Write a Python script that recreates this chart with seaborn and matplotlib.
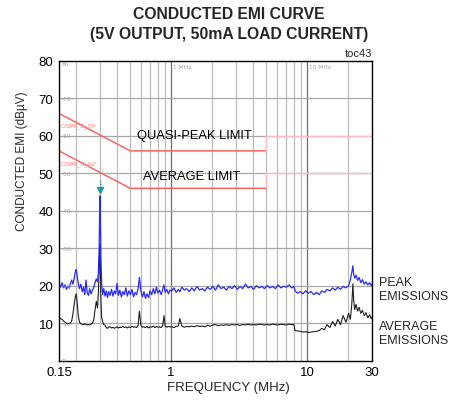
"""Conducted EMI curve (5V output, 50mA load current) redrawn with seaborn."""

import matplotlib
matplotlib.use("Agg")

import matplotlib.pyplot as plt
import matplotlib.ticker as mticker
import pandas as pd
import seaborn as sns


FREQ_MHZ = [
    0.150, 0.154, 0.158, 0.162, 0.166, 0.170, 0.174, 0.178, 0.182, 0.186,
    0.190, 0.194, 0.198, 0.201, 0.204, 0.208, 0.212, 0.217, 0.222, 0.227,
    0.232, 0.237, 0.242, 0.247, 0.252, 0.258, 0.264, 0.270, 0.276, 0.282,
    0.288, 0.292, 0.296, 0.298, 0.300, 0.302, 0.305, 0.309, 0.314, 0.320,
    0.327, 0.334, 0.341, 0.348,
    0.356, 0.365, 0.374, 0.383, 0.392, 0.400, 0.410, 0.420, 0.431, 0.442,
    0.453, 0.465, 0.477, 0.490, 0.503, 0.516, 0.530, 0.544, 0.558, 0.572,
    0.585, 0.600, 0.616, 0.632, 0.648, 0.665, 0.683, 0.700, 0.720, 0.740,
    0.760, 0.780, 0.800, 0.822, 0.845, 0.868, 0.887, 0.905, 0.930, 0.955,
    0.980,
    1.01, 1.05, 1.09, 1.13, 1.16, 1.20, 1.25, 1.30, 1.36, 1.42,
    1.48, 1.55, 1.62, 1.69, 1.77, 1.85, 1.94, 2.03, 2.12, 2.22,
    2.33, 2.44, 2.55, 2.67, 2.80, 2.93, 3.07, 3.21, 3.36, 3.52,
    3.69, 3.86, 4.04, 4.23, 4.43, 4.64, 4.86, 5.09, 5.33, 5.58,
    5.84, 6.12, 6.41, 6.71, 7.03, 7.36, 7.71, 8.00,
    8.15, 8.50, 8.90, 9.30, 9.75, 10.2, 10.7, 11.2, 11.7, 12.3,
    12.8, 13.4, 14.0, 14.7, 15.4, 16.1, 16.8, 17.6, 18.4, 19.3,
    20.2, 20.8, 21.3, 21.7, 22.0, 22.4, 22.9, 23.5, 24.1, 24.8,
    25.5, 26.3, 27.1, 27.9, 28.8, 29.6, 30.0,
]

PEAK_DBUV = [
    20.5, 19.6, 20.8, 19.4, 20.2, 19.0, 19.8, 19.3, 20.6, 21.5,
    20.4, 22.0, 23.8, 24.3, 22.6, 20.5, 19.2, 20.4, 18.4, 19.6,
    17.6, 21.5, 18.0, 17.4, 19.2, 17.8, 18.8, 19.5, 20.8, 21.8,
    21.0, 23.5, 30.0, 38.5, 44.0, 39.0, 27.0, 20.5, 17.6, 19.2,
    17.2, 18.6, 16.8, 18.4,
    17.4, 19.0, 17.2, 18.6, 17.8, 20.6, 17.4, 18.8, 17.0, 18.4,
    17.6, 19.4, 17.2, 18.6, 17.6, 19.0, 17.0, 18.2, 17.6, 19.2,
    22.2, 18.6, 17.0, 18.4, 16.6, 17.8, 16.8, 18.6, 17.6, 19.2,
    17.8, 19.6, 18.0, 18.8, 17.6, 19.0, 20.2, 18.2, 19.0, 17.8,
    18.8,
    18.6, 19.4, 18.2, 19.0, 18.4, 19.6, 18.8, 19.2, 18.4, 19.4,
    18.6, 19.8, 18.8, 19.2, 18.6, 19.6, 19.0, 19.8, 18.8, 20.2,
    19.2, 19.6, 18.8, 19.8, 19.2, 20.0, 19.0, 19.8, 19.2, 20.4,
    19.4, 19.8, 19.0, 20.0, 19.4, 19.8, 19.2, 20.0, 19.4, 19.8,
    19.2, 20.2, 19.4, 19.8, 19.6, 20.2, 19.4, 19.8,
    18.6, 18.0, 18.4, 17.8, 18.6, 18.0, 18.4, 17.6, 18.2, 17.6,
    18.6, 18.2, 19.0, 18.6, 19.4, 18.8, 19.6, 19.0, 19.8, 19.4,
    20.0, 21.6, 23.5, 25.3, 23.0, 22.0, 22.8, 21.4, 22.2, 20.8,
    21.6, 20.4, 21.0, 20.2, 20.8, 20.0, 20.4,
]

AVERAGE_DBUV = [
    11.6, 11.2, 11.0, 10.6, 10.2, 10.0, 9.8, 9.9, 10.0, 10.6,
    12.5, 15.0, 17.2, 17.8, 15.5, 12.0, 10.3, 9.8, 9.7, 9.6,
    9.8, 9.6, 9.5, 9.6, 9.5, 9.7, 10.0, 10.8, 13.5, 15.8,
    14.0, 18.0, 24.0, 29.0, 31.0, 26.0, 16.0, 11.5, 10.4, 9.6,
    9.4, 8.8, 8.6, 8.9,
    9.0, 8.7, 8.9, 8.6, 8.8, 9.0, 8.7, 8.9, 8.8, 9.1,
    8.8, 9.0, 8.7, 9.0, 8.8, 9.1, 8.9, 9.0, 8.8, 9.4,
    13.2, 9.4, 8.9, 9.0, 8.8, 9.1, 8.7, 9.0, 8.9, 9.2,
    8.8, 9.1, 8.9, 9.0, 8.8, 9.3, 12.0, 9.2, 8.9, 9.1,
    9.0,
    9.0, 8.8, 9.1, 9.2, 11.2, 9.2, 8.9, 9.1, 9.0, 9.2,
    9.0, 9.3, 9.1, 9.2, 9.0, 9.4, 9.2, 9.5, 9.6, 9.3,
    9.5, 9.4, 9.6, 9.4, 9.6, 9.5, 9.6, 9.4, 9.6, 9.5,
    9.7, 9.5, 9.6, 9.5, 9.7, 9.6, 9.5, 9.6, 9.5, 9.7,
    9.6, 9.5, 9.7, 9.6, 9.5, 9.7, 9.6, 9.6,
    8.0, 7.9, 7.8, 7.6, 7.7, 7.5, 7.6, 7.7, 7.8, 8.0,
    8.6, 8.2, 9.6, 8.8, 10.4, 9.2, 11.0, 9.6, 12.0, 10.2,
    12.6, 11.0, 15.0, 20.5, 16.0, 13.6, 15.0, 13.2, 14.2, 12.6,
    13.4, 12.0, 12.8, 11.4, 12.2, 11.2, 11.6,
]

# CISPR 22 class B limits
QP_LIMIT_FREQ = [0.15, 0.5, 5.0]
QP_LIMIT_DBUV = [66, 56, 56]
QP_UPPER_FREQ = [5.0, 5.0, 30.0]
QP_UPPER_DBUV = [56, 60, 60]
AV_LIMIT_FREQ = [0.15, 0.5, 5.0]
AV_LIMIT_DBUV = [56, 46, 46]
AV_UPPER_FREQ = [5.0, 5.0, 30.0]
AV_UPPER_DBUV = [46, 50, 50]

X_TICKS = [0.15, 1, 10, 30]
X_TICK_LABELS = ["0.15", "1", "10", "30"]
Y_TICKS = [10, 20, 30, 40, 50, 60, 70, 80]
GRID_FREQS = [0.2, 0.3, 0.4, 0.5, 0.6, 0.7, 0.8, 0.9,
              2, 3, 4, 5, 6, 7, 8, 9, 20]


def main():
    sns.set_theme(style="white")
    plt.rcParams["font.family"] = ["Liberation Sans", "DejaVu Sans"]

    traces = pd.DataFrame({"freq": FREQ_MHZ, "peak": PEAK_DBUV, "average": AVERAGE_DBUV})

    fig = plt.figure(figsize=(4.5, 4.02), dpi=100)
    ax = fig.add_axes([0.1311, 0.1007, 0.6956, 0.7451])
    ax.set_xscale("log")
    ax.set_xlim(0.15, 30)
    ax.set_ylim(0, 80)

    # instrument-style grid
    for f in GRID_FREQS:
        ax.axvline(f, color="#bcbcbc", lw=0.9, zorder=0)
    for f in (1, 10):
        ax.axvline(f, color="#6e6e6e", lw=0.9, zorder=0)
    for level in range(10, 80, 10):
        ax.axhline(level, color="#a8a8a8", lw=0.9, zorder=0)

    # faint on-screen annotations from the analyzer
    for level in range(0, 90, 10):
        label = f"-{level}-" if 0 < level < 80 else str(level)
        ax.text(0.157, level - 0.8 if level == 80 else level, label,
                fontsize=4.2, color="#a0a0a0", va="center", ha="left", family="DejaVu Sans")
    ax.text(1.03, 78.6, "1 MHz", fontsize=4.2, color="#a0a0a0", va="center", family="DejaVu Sans")
    ax.text(10.3, 78.6, "10 MHz", fontsize=4.2, color="#a0a0a0", va="center", family="DejaVu Sans")
    ax.text(0.153, 62.8, "CISPR_B_QP", fontsize=4.2, color="#ff8080", va="center", family="DejaVu Sans")
    ax.text(0.153, 52.8, "CISPR_B_AV", fontsize=4.2, color="#ff8080", va="center", family="DejaVu Sans")

    # limit lines
    sns.lineplot(x=QP_LIMIT_FREQ, y=QP_LIMIT_DBUV, ax=ax, color="#ff5a5a", lw=1.0,
                 estimator=None, sort=False)
    sns.lineplot(x=AV_LIMIT_FREQ, y=AV_LIMIT_DBUV, ax=ax, color="#ff5a5a", lw=1.0,
                 estimator=None, sort=False)
    sns.lineplot(x=QP_UPPER_FREQ, y=QP_UPPER_DBUV, ax=ax, color="#ffbcbc", lw=1.0,
                 estimator=None, sort=False)
    sns.lineplot(x=AV_UPPER_FREQ, y=AV_UPPER_DBUV, ax=ax, color="#ffbcbc", lw=1.0,
                 estimator=None, sort=False)

    # measured traces
    sns.lineplot(data=traces, x="freq", y="average", ax=ax, color="#1e1e1e", lw=0.8,
                 estimator=None, sort=False)
    sns.lineplot(data=traces, x="freq", y="peak", ax=ax, color="#2a2aff", lw=0.9,
                 estimator=None, sort=False)

    # analyzer marker on the highest peak
    top = traces.loc[traces["peak"].idxmax()]
    ax.plot([top["freq"]], [top["peak"] + 1.6], marker="v", color="#1f9e9e",
            markersize=4.5, linestyle="none")
    ax.text(top["freq"], top["peak"] + 3.6, "1", fontsize=4, color="#1f9e9e",
            ha="center", va="center", family="DejaVu Sans")

    ax.text(0.56, 60.2, "QUASI-PEAK LIMIT", fontsize=9.3, color="black", va="center", ha="left")
    ax.text(0.62, 49.3, "AVERAGE LIMIT", fontsize=9.3, color="black", va="center", ha="left")

    ax.xaxis.set_major_locator(mticker.FixedLocator(X_TICKS))
    ax.xaxis.set_major_formatter(mticker.FixedFormatter(X_TICK_LABELS))
    ax.xaxis.set_minor_locator(mticker.NullLocator())
    ax.set_yticks(Y_TICKS)
    ax.tick_params(axis="both", length=0, labelsize=9.5, colors="black", pad=4)
    ax.set_xlabel("")
    ax.set_ylabel("")
    for spine in ax.spines.values():
        spine.set_color("black")
        spine.set_linewidth(1.0)

    fig.text(0.509, 0.963, "CONDUCTED EMI CURVE", fontsize=11.3, fontweight="bold",
             ha="center", va="center")
    fig.text(0.509, 0.913, "(5V OUTPUT, 50mA LOAD CURRENT)", fontsize=11.3, fontweight="bold",
             ha="center", va="center")
    fig.text(0.826, 0.853, "toc43", fontsize=8, ha="right", va="bottom")
    fig.text(0.507, 0.035, "FREQUENCY (MHz)", fontsize=9.5, ha="center", va="center")
    fig.text(0.048, 0.598, "CONDUCTED EMI (dBµV)", fontsize=8.5, ha="center", va="center",
             rotation=90)
    fig.text(0.842, 0.279, "PEAK\nEMISSIONS", fontsize=9, ha="left", va="center",
             linespacing=1.2)
    fig.text(0.842, 0.170, "AVERAGE\nEMISSIONS", fontsize=9, ha="left", va="center",
             linespacing=1.2)

    fig.savefig("out.png", dpi=100, facecolor="white")
    plt.close(fig)


if __name__ == "__main__":
    main()
